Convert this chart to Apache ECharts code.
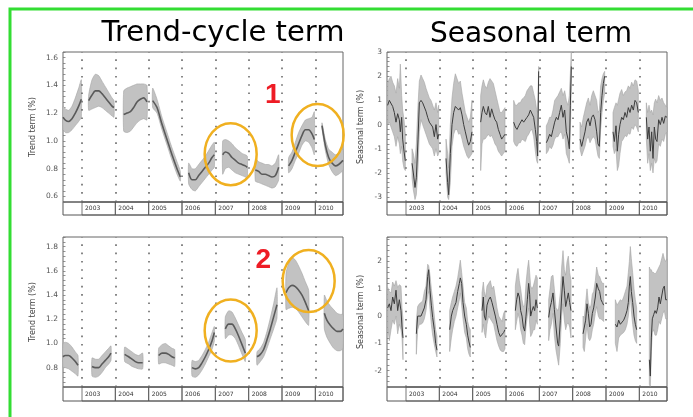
<!DOCTYPE html>
<html><head><meta charset="utf-8">
<script src="https://cdn.jsdelivr.net/npm/echarts@6/dist/echarts.min.js"></script>
<style>html,body{margin:0;padding:0;background:#fff}#c{width:693px;height:417px}</style>
</head><body><div id="c"></div>
<script>
// ---------- data ----------
const yearLines = [2003, 2004, 2005, 2006, 2007, 2008, 2009, 2010];
const yearLabels = ['2003', '2004', '2005', '2006', '2007', '2008', '2009', '2010'];

// Trend-cycle term, panel 1 (top-left)
const trendTopTime = [2002.43,2002.5,2002.6,2002.7,2002.8,2002.9,2002.98,null,
  2003.2,2003.3,2003.4,2003.5,2003.6,2003.7,2003.8,2003.9,2003.96,null,
  2004.25,2004.35,2004.45,2004.55,2004.65,2004.75,2004.85,2004.95,null,
  2005.12,2005.25,2005.4,2005.55,2005.7,2005.85,2005.95,null,
  2006.2,2006.3,2006.4,2006.5,2006.6,2006.7,2006.8,2006.9,2006.97,null,
  2007.22,2007.3,2007.4,2007.5,2007.6,2007.7,2007.8,2007.9,2007.96,null,
  2008.2,2008.3,2008.4,2008.5,2008.6,2008.7,2008.8,2008.9,null,
  2009.2,2009.3,2009.4,2009.5,2009.6,2009.7,2009.8,2009.9,2009.97,null,
  2010.2,2010.3,2010.4,2010.5,2010.6,2010.7,2010.83];
const trendTopMid = [1.17,1.15,1.14,1.16,1.20,1.25,1.30,null,
  1.29,1.33,1.36,1.36,1.34,1.31,1.28,1.25,1.24,null,
  1.19,1.20,1.21,1.24,1.28,1.30,1.31,1.28,null,
  1.29,1.24,1.12,1.01,0.90,0.80,0.74,null,
  0.77,0.72,0.72,0.75,0.78,0.81,0.84,0.88,0.90,null,
  0.90,0.92,0.91,0.88,0.86,0.84,0.83,0.82,0.81,null,
  0.79,0.78,0.76,0.76,0.75,0.74,0.75,0.81,null,
  0.82,0.86,0.92,0.98,1.04,1.08,1.08,1.05,1.01,null,
  1.11,0.97,0.88,0.84,0.82,0.83,0.86];
const trendTopHigh = [1.25,1.23,1.22,1.25,1.31,1.38,1.44,null,
  1.33,1.44,1.48,1.47,1.43,1.39,1.35,1.31,1.29,null,
  1.36,1.38,1.39,1.40,1.41,1.41,1.41,1.40,null,
  1.38,1.30,1.17,1.06,0.95,0.85,0.78,null,
  0.84,0.80,0.80,0.83,0.86,0.89,0.93,0.97,0.99,null,
  1.00,1.01,1.00,0.98,0.95,0.93,0.91,0.90,0.89,null,
  0.87,0.85,0.84,0.83,0.83,0.82,0.84,0.90,null,
  0.88,0.92,0.99,1.06,1.11,1.15,1.16,1.17,1.21,null,
  1.13,1.01,0.94,0.92,0.90,0.91,0.94];
const trendTopLow = [1.08,1.06,1.06,1.08,1.11,1.14,1.17,null,
  1.22,1.23,1.24,1.25,1.24,1.22,1.20,1.18,1.17,null,
  1.07,1.06,1.07,1.10,1.13,1.15,1.16,1.15,null,
  1.24,1.20,1.08,0.97,0.86,0.76,0.71,null,
  0.69,0.65,0.64,0.67,0.70,0.73,0.76,0.79,0.81,null,
  0.76,0.80,0.81,0.79,0.77,0.76,0.75,0.74,0.73,null,
  0.71,0.70,0.69,0.68,0.67,0.66,0.67,0.72,null,
  0.77,0.80,0.86,0.91,0.97,1.00,0.99,0.95,0.90,null,
  1.09,0.93,0.83,0.78,0.75,0.76,0.79];

// Trend-cycle term, panel 2 (bottom-left)
const trendBotTime = [2002.43,2002.5,2002.6,2002.7,2002.8,2002.88,null,
  2003.3,2003.4,2003.5,2003.6,2003.7,2003.8,2003.87,null,
  2004.28,2004.4,2004.5,2004.6,2004.7,2004.82,null,
  2005.3,2005.4,2005.5,2005.6,2005.7,2005.78,null,
  2006.3,2006.4,2006.5,2006.6,2006.7,2006.8,2006.9,2006.97,null,
  2007.3,2007.4,2007.5,2007.6,2007.7,2007.8,2007.9,null,
  2008.25,2008.35,2008.45,2008.55,2008.65,2008.75,2008.85,null,
  2009.12,2009.2,2009.3,2009.4,2009.5,2009.6,2009.7,2009.8,null,
  2010.27,2010.35,2010.45,2010.55,2010.65,2010.75,2010.83];
const trendBotMid = [0.89,0.90,0.90,0.88,0.85,0.82,null,
  0.81,0.80,0.80,0.83,0.86,0.89,0.92,null,
  0.91,0.89,0.87,0.85,0.84,0.84,null,
  0.90,0.92,0.92,0.91,0.89,0.88,null,
  0.80,0.79,0.80,0.84,0.89,0.95,1.02,1.09,null,
  1.12,1.16,1.16,1.12,1.06,0.99,0.92,null,
  0.89,0.91,0.95,1.03,1.12,1.22,1.32,null,
  1.42,1.46,1.48,1.47,1.44,1.40,1.34,1.27,null,
  1.25,1.19,1.15,1.12,1.10,1.10,1.12];
const trendBotHigh = [1.00,1.01,1.00,0.97,0.93,0.90,null,
  0.88,0.87,0.87,0.90,0.93,0.96,0.98,null,
  0.97,0.95,0.93,0.91,0.90,0.92,null,
  0.96,0.99,1.00,0.98,0.96,0.95,null,
  0.86,0.85,0.86,0.90,0.95,1.01,1.09,1.14,null,
  1.22,1.27,1.26,1.21,1.15,1.09,1.03,null,
  0.93,0.96,1.01,1.10,1.21,1.33,1.46,null,
  1.58,1.66,1.71,1.69,1.64,1.58,1.51,1.44,null,
  1.40,1.35,1.31,1.28,1.25,1.24,1.24];
const trendBotLow = [0.80,0.80,0.79,0.77,0.75,0.73,null,
  0.73,0.72,0.73,0.76,0.80,0.83,0.86,null,
  0.85,0.83,0.81,0.80,0.79,0.79,null,
  0.83,0.84,0.84,0.83,0.82,0.81,null,
  0.73,0.72,0.74,0.78,0.83,0.89,0.95,1.02,null,
  1.04,1.07,1.07,1.04,0.98,0.91,0.85,null,
  0.82,0.85,0.89,0.96,1.04,1.12,1.21,null,
  1.28,1.29,1.30,1.29,1.26,1.22,1.18,1.15,null,
  1.12,1.05,1.00,0.96,0.94,0.94,0.96];

// Seasonal term, panel 1 (top-right)
const seasTopTime = [2002.45,2002.5,2002.55,2002.6,2002.65,2002.7,2002.75,2002.8,2002.83,2002.87,2002.9,2002.94,2002.98,null,
  2003.18,2003.22,2003.27,2003.31,2003.36,2003.4,2003.45,2003.5,2003.55,2003.6,2003.65,2003.7,2003.75,2003.8,2003.85,2003.9,2003.95,2003.98,null,
  2004.2,2004.25,2004.28,2004.33,2004.38,2004.43,2004.48,2004.53,2004.58,2004.63,2004.68,2004.73,2004.78,2004.83,2004.88,2004.93,2004.98,null,
  2005.24,2005.28,2005.32,2005.37,2005.42,2005.47,2005.52,2005.57,2005.62,2005.67,2005.72,2005.77,2005.82,2005.87,2005.92,2005.97,null,
  2006.23,2006.28,2006.33,2006.38,2006.43,2006.48,2006.53,2006.58,2006.63,2006.68,2006.73,2006.78,2006.83,2006.88,2006.92,2006.95,2006.98,null,
  2007.21,2007.26,2007.31,2007.36,2007.41,2007.46,2007.51,2007.56,2007.61,2007.66,2007.71,2007.76,2007.81,2007.86,2007.9,2007.93,2007.96,null,
  2008.22,2008.27,2008.32,2008.37,2008.42,2008.47,2008.52,2008.57,2008.62,2008.67,2008.72,2008.76,2008.8,2008.84,2008.88,2008.92,2008.96,null,
  2009.21,2009.25,2009.3,2009.34,2009.38,2009.42,2009.47,2009.52,2009.57,2009.62,2009.67,2009.72,2009.77,2009.82,2009.87,2009.92,2009.97,null,
  2010.21,2010.25,2010.29,2010.33,2010.37,2010.41,2010.45,2010.49,2010.53,2010.58,2010.63,2010.68,2010.73,2010.78,2010.83];
const seasTopMid = [0.8,1.0,0.95,0.75,0.5,0.1,0.45,0.2,-0.3,0.3,-0.6,-1.1,-1.5,null,
  -1.6,-2.0,-2.6,-2.2,-0.6,0.9,1.0,0.9,0.85,0.55,0.3,0.1,0.05,-0.1,-0.5,0.0,-0.6,-0.4,null,
  -1.4,-2.4,-2.9,-1.2,0.0,0.5,0.75,0.8,0.6,0.7,0.4,0.0,-0.3,-0.6,-0.85,-0.7,-0.3,null,
  0.1,0.5,0.75,0.5,0.4,0.75,0.3,0.65,0.4,0.2,0.1,-0.2,-0.4,-0.6,-0.5,-0.4,null,
  0.1,-0.1,-0.2,-0.05,-0.1,0.2,0.1,0.1,0.3,0.4,0.6,0.65,0.3,-0.2,-0.7,-1.3,2.2,null,
  -0.75,-0.6,-0.4,-0.5,-0.2,0.1,0.3,0.2,0.5,0.8,0.3,0.6,-0.3,-0.6,-1.0,0.8,2.4,null,
  -0.6,-0.9,-0.6,-0.3,0.1,0.25,-0.05,0.3,0.4,0.2,-0.3,-0.8,-0.9,0.5,1.2,1.7,2.0,null,
  -0.3,-0.7,-0.05,-1.1,-0.4,0.0,0.3,0.2,0.5,0.3,0.7,0.5,0.8,0.6,1.0,0.9,0.5,null,
  0.3,-0.6,-0.1,-1.1,-0.3,-1.4,-0.1,-0.6,-0.7,0.2,0.0,0.3,0.05,0.35,0.3];
const seasTopHigh = [1.7,1.9,2.0,1.75,1.6,1.3,1.9,1.5,2.5,1.2,0.6,0.2,-0.4,null,
  -1.0,-1.2,-1.6,-0.8,0.8,1.8,2.05,1.9,1.75,1.5,1.3,1.1,1.0,0.8,0.6,0.9,0.5,0.8,null,
  -0.6,-1.2,-1.8,0.0,1.1,1.7,2.1,1.9,1.7,1.8,1.3,0.9,0.5,0.3,0.1,0.3,1.0,null,
  1.2,1.6,1.85,1.6,1.5,1.75,1.9,1.8,1.7,1.4,1.1,0.8,0.5,0.5,0.6,0.7,null,
  1.0,0.8,0.8,0.9,0.9,1.05,1.1,1.2,1.4,1.5,1.6,1.6,1.3,1.0,0.6,0.5,2.4,null,
  -0.05,0.1,0.3,0.3,0.6,1.0,1.1,1.2,1.35,1.5,1.2,1.4,1.0,0.8,1.2,2.1,3.0,null,
  0.1,-0.1,0.3,0.6,0.9,1.1,0.8,1.2,1.4,1.2,1.0,0.5,0.6,1.6,1.9,2.1,2.2,null,
  0.5,0.7,0.9,0.8,1.05,1.3,1.45,1.2,1.35,1.4,1.6,1.5,1.75,1.6,1.85,1.8,1.4,null,
  0.9,0.5,0.8,0.5,0.6,0.4,0.9,1.05,0.9,1.2,1.0,1.1,0.9,0.8,0.7];
const seasTopLow = [0.0,0.1,-0.1,-0.3,-0.5,-0.9,-0.5,-0.8,-1.2,-0.9,-1.5,-1.8,-1.9,null,
  -2.2,-2.7,-3.1,-2.9,-1.8,-0.3,0.2,0.0,-0.2,-0.4,-0.6,-0.8,-0.9,-1.0,-1.3,-1.0,-1.3,-1.2,null,
  -2.0,-3.0,-3.1,-2.4,-0.9,-0.4,-0.2,-0.2,-0.4,-0.35,-0.6,-0.9,-1.1,-1.3,-1.4,-1.3,-1.2,null,
  -1.9,-0.8,-0.6,-0.6,-0.5,-0.4,-0.5,-0.45,-0.6,-0.8,-0.9,-1.1,-1.2,-1.3,-1.2,-1.1,null,
  -0.7,-0.85,-0.9,-0.75,-0.75,-0.6,-0.65,-0.7,-0.5,-0.4,-0.25,-0.2,-0.5,-1.1,-1.5,-1.6,1.5,null,
  -1.2,-1.1,-0.9,-1.0,-0.85,-0.6,-0.5,-0.5,-0.35,-0.3,-0.6,-0.4,-1.2,-1.4,-1.6,-0.4,1.8,null,
  -1.0,-1.3,-1.1,-0.9,-0.6,-0.5,-0.75,-0.6,-0.5,-0.6,-1.0,-1.3,-1.4,-0.2,0.5,1.0,1.3,null,
  -0.9,-1.2,-1.0,-1.9,-1.7,-1.2,-0.7,-0.6,-0.45,-0.5,-0.35,-0.4,-0.1,-0.2,0.0,-0.1,-0.3,null,
  -0.6,-1.6,-1.2,-1.9,-1.6,-2.0,-1.4,-1.6,-1.5,-0.8,-0.9,-0.6,-0.7,-0.4,-0.3];

// Seasonal term, panel 2 (bottom-right)
const seasBotTime = [2002.45,2002.5,2002.55,2002.6,2002.65,2002.7,2002.75,2002.8,2002.85,2002.88,2002.91,null,
  2003.31,2003.35,2003.4,2003.45,2003.5,2003.55,2003.6,2003.65,2003.68,2003.72,2003.76,2003.8,2003.85,2003.89,2003.93,null,
  2004.31,2004.36,2004.4,2004.45,2004.5,2004.55,2004.6,2004.63,2004.67,2004.71,2004.76,2004.81,2004.85,2004.89,2004.93,null,
  2005.28,2005.32,2005.35,2005.39,2005.43,2005.48,2005.53,2005.58,2005.63,2005.68,2005.73,2005.78,2005.83,2005.88,2005.93,2005.97,null,
  2006.28,2006.32,2006.36,2006.4,2006.44,2006.48,2006.52,2006.56,2006.6,2006.64,2006.68,2006.71,2006.74,2006.78,2006.82,2006.86,2006.9,2006.94,null,
  2007.28,2007.32,2007.36,2007.41,2007.45,2007.5,2007.55,2007.58,2007.63,2007.67,2007.71,2007.75,2007.79,2007.83,2007.87,2007.91,2007.95,null,
  2008.31,2008.35,2008.39,2008.43,2008.47,2008.51,2008.55,2008.59,2008.63,2008.68,2008.72,2008.77,2008.81,2008.85,2008.89,2008.93,null,
  2009.28,2009.33,2009.38,2009.43,2009.48,2009.53,2009.58,2009.63,2009.67,2009.7,2009.73,2009.76,2009.8,2009.84,2009.88,2009.92,null,
  2010.3,2010.33,2010.36,2010.39,2010.43,2010.47,2010.51,2010.55,2010.59,2010.63,2010.67,2010.71,2010.75,2010.79,2010.83];
const seasBotMid = [0.3,0.45,0.2,0.7,0.45,0.95,0.2,0.6,0.2,-0.4,-0.8,null,
  -0.65,0.0,0.05,0.0,-0.05,0.3,0.6,1.45,1.7,0.95,0.4,-0.05,-0.5,-1.0,-1.25,null,
  -0.5,0.0,0.2,0.35,0.5,0.9,1.2,1.4,1.2,0.5,0.0,-0.3,-0.7,-0.95,-1.15,null,
  0.2,0.7,0.0,-0.15,0.4,0.6,0.7,0.5,0.45,0.0,-0.3,-0.6,-0.75,-0.7,-0.6,-0.5,null,
  0.2,0.6,0.85,0.7,0.2,0.0,-0.4,-0.55,0.0,0.6,1.2,0.8,0.0,0.2,0.35,0.2,0.6,0.3,null,
  -0.05,0.3,0.5,0.85,0.25,-0.4,-1.0,-1.1,-0.15,0.7,1.45,0.95,0.35,0.6,0.85,0.5,0.2,null,
  -0.65,-0.7,-0.15,0.45,0.1,-0.4,-0.3,0.1,0.3,0.7,1.2,1.0,0.9,0.6,0.5,0.4,null,
  -0.3,-0.4,-0.15,-0.3,-0.25,-0.15,0.0,0.2,0.5,1.1,1.45,0.9,0.5,0.0,-0.3,-0.5,null,
  -1.6,-2.2,-0.8,-0.1,0.05,0.2,0.1,0.3,0.7,0.45,0.5,1.0,1.1,0.6,0.6];
const seasBotHigh = [1.05,0.9,0.85,1.25,1.1,1.3,1.05,1.15,1.1,0.3,-0.1,null,
  -0.15,0.35,0.45,0.5,0.55,0.9,1.1,1.9,1.85,1.5,1.0,0.6,0.0,-0.5,-0.75,null,
  0.2,0.5,0.7,0.9,1.1,1.4,1.8,2.05,1.6,1.1,0.5,0.3,-0.2,-0.4,-0.5,null,
  0.85,1.25,0.9,0.7,1.1,1.2,1.3,1.0,1.1,0.7,0.3,0.0,-0.1,-0.2,0.1,0.2,null,
  1.1,1.5,1.75,1.3,1.0,0.6,0.35,0.4,1.2,1.7,2.05,1.6,1.1,1.0,1.1,1.3,1.5,1.4,null,
  0.6,1.0,1.45,1.5,1.0,0.3,0.2,0.3,0.85,1.8,2.4,1.7,1.5,2.0,2.2,1.6,1.3,null,
  0.0,-0.05,0.5,1.0,0.5,0.3,0.4,0.8,0.9,1.3,1.8,1.5,1.45,1.3,1.2,1.2,null,
  0.6,0.4,0.5,0.6,0.55,0.7,0.9,1.1,1.6,2.0,2.55,2.1,1.6,1.0,0.6,0.3,null,
  1.8,1.7,1.7,1.6,1.6,1.55,1.6,1.7,1.8,1.9,2.1,2.3,2.1,2.0,2.1];
const seasBotLow = [-0.4,-0.9,-0.5,-0.15,-0.3,0.0,-0.65,-0.3,-0.5,-0.8,-1.6,null,
  -1.4,-0.5,-0.3,-0.3,-0.25,-0.1,0.2,0.8,0.9,0.25,-0.3,-0.7,-1.05,-1.3,-1.5,null,
  -1.3,-0.8,-0.5,-0.2,0.0,0.3,0.6,0.85,0.4,-0.1,-0.6,-0.8,-1.2,-1.4,-1.5,null,
  -0.6,-0.3,-0.6,-0.8,-0.3,0.0,-0.1,-0.2,-0.3,-0.6,-0.9,-1.1,-1.25,-1.3,-1.3,-1.2,null,
  -0.5,-0.2,0.1,-0.1,-0.5,-0.7,-1.0,-1.05,-0.4,0.0,0.3,-0.3,-0.75,-0.65,-0.5,-0.5,-0.15,-0.3,null,
  -0.9,-0.5,-0.3,0.1,-0.7,-1.25,-1.6,-1.8,-1.0,0.0,0.45,-0.15,-0.5,-0.3,-0.25,-0.4,-0.8,null,
  -1.15,-1.3,-0.8,-0.3,-0.8,-0.9,-0.8,-0.5,-0.3,0.1,0.35,0.0,-0.1,-0.1,-0.15,-0.2,null,
  -1.0,-1.3,-0.8,-0.7,-0.65,-0.6,-0.5,-0.3,0.0,0.4,0.8,0.2,-0.3,-0.7,-0.9,-1.0,null,
  -2.5,-2.6,-1.3,-0.6,-0.5,-0.7,-0.7,-0.5,-0.2,-0.3,-0.1,0.1,0.2,-0.1,-0.1];

// annotations (data coordinates of the hand-drawn marks)
const circleMarks = [[0, 2007.46, 0.904], [0, 2010.07, 1.042], [2, 2007.46, 1.107], [2, 2009.80, 1.516]];
const numberMarks = [[0, 2008.72, 1.33, '1'], [2, 2008.44, 1.686, '2']];

// ---------- chart ----------
const X_MIN = 2002.43, X_MAX = 2010.83;
const panels = [
  {left: 63, top: 52, h: 150, stripH: 13, t: trendTopTime, m: trendTopMid, hi: trendTopHigh, lo: trendTopLow,
   y: {min: 0.56, max: 1.64, interval: 0.04}, major: 0.2, dec: 1, name: 'Trend term (%)', smooth: 0.3, nameGap: 26},
  {left: 387, top: 52, h: 150, stripH: 13, t: seasTopTime, m: seasTopMid, hi: seasTopHigh, lo: seasTopLow,
   y: {min: -3.2, max: 3.0, interval: 0.2}, major: 1, dec: 0, name: 'Seasonal term (%)', smooth: false, nameGap: 22},
  {left: 63, top: 237, h: 150, stripH: 14, t: trendBotTime, m: trendBotMid, hi: trendBotHigh, lo: trendBotLow,
   y: {min: 0.64, max: 1.88, interval: 0.04}, major: 0.2, dec: 1, name: 'Trend term (%)', smooth: 0.3, nameGap: 26},
  {left: 387, top: 237, h: 150, stripH: 14, t: seasBotTime, m: seasBotMid, hi: seasBotHigh, lo: seasBotLow,
   y: {min: -2.6, max: 2.9, interval: 0.2}, major: 1, dec: 0, name: 'Seasonal term (%)', smooth: false, nameGap: 22}
];

function splitSegments(t) {
  const segs = []; let cur = [];
  t.forEach((v, i) => { if (v == null) { if (cur.length) segs.push(cur); cur = []; } else cur.push(i); });
  if (cur.length) segs.push(cur);
  return segs;
}

const grids = [], xAxes = [], yAxes = [], series = [];
panels.forEach((p, pi) => {
  const gi = pi * 2;
  grids.push({left: p.left, top: p.top, width: 280, height: p.h, show: true, borderColor: '#666', borderWidth: 1, backgroundColor: '#fff'});
  grids.push({left: p.left, top: p.top + p.h, width: 280, height: p.stripH, show: true, borderColor: '#555', borderWidth: 1});
  xAxes.push({gridIndex: gi, type: 'value', min: X_MIN, max: X_MAX, show: false});
  xAxes.push({gridIndex: gi + 1, type: 'value', min: X_MIN, max: X_MAX, show: false});
  const major = p.major, dec = p.dec;
  yAxes.push({gridIndex: gi, type: 'value', min: p.y.min, max: p.y.max, interval: p.y.interval,
    name: p.name, nameLocation: 'middle', nameGap: p.nameGap,
    nameTextStyle: {fontSize: 8, color: '#444', fontFamily: 'DejaVu Sans'},
    axisLine: {show: false}, splitLine: {show: false},
    axisTick: {show: true, inside: true, length: 2.5, lineStyle: {color: '#777', width: 0.8}},
    axisLabel: {fontSize: 7.5, color: '#555', fontFamily: 'DejaVu Sans', margin: 5,
      formatter: v => (Math.abs(v / major - Math.round(v / major)) < 1e-6) ? v.toFixed(dec) : ''}});
  yAxes.push({gridIndex: gi + 1, type: 'value', min: 0, max: 1, show: false});

  const segs = splitSegments(p.t);
  const t = p.t, hi = p.hi, lo = p.lo;
  // uncertainty band
  series.push({type: 'custom', xAxisIndex: gi, yAxisIndex: gi, silent: true, z: 2,
    data: segs.map(s => [t[s[0]], p.m[s[0]]]),
    renderItem: (params, api) => {
      const s = segs[params.dataIndex];
      const pts = s.map(i => api.coord([t[i], hi[i]]))
        .concat(s.slice().reverse().map(i => api.coord([t[i], lo[i]])));
      const cs = params.coordSys;
      const clipped = echarts.graphic.clipPointsByRect(pts, {x: cs.x, y: cs.y, width: cs.width, height: cs.height});
      return {type: 'polygon', shape: {points: clipped, smooth: p.smooth ? 0.2 : 0},
        style: {fill: '#c2c2c2', stroke: '#a5a5a5', lineWidth: 0.6}};
    }});
  // central estimate + dotted year lines
  series.push({type: 'line', xAxisIndex: gi, yAxisIndex: gi, silent: true, z: 3,
    showSymbol: false, symbol: 'none', connectNulls: false, smooth: p.smooth, clip: true,
    lineStyle: {color: p.smooth ? '#5a5a5a' : '#3c3c3c', width: p.smooth ? 1.6 : 1},
    data: t.map((v, i) => v == null ? ['-', '-'] : [v, p.m[i]]),
    markLine: {silent: true, symbol: ['none', 'none'], label: {show: false}, animation: false,
      lineStyle: {type: [1.6, 6.7], color: '#6a6a6a', width: 1.6},
      data: yearLines.map(y => ({xAxis: y}))}});
  // year strip
  series.push({type: 'custom', xAxisIndex: gi + 1, yAxisIndex: gi + 1, silent: true, z: 3,
    data: yearLines.map(y => [y, 0.5]),
    renderItem: (params, api) => {
      const y = yearLines[params.dataIndex];
      const cs = params.coordSys;
      const a = api.coord([y, 1]), b = api.coord([y + 1, 0]);
      const x0 = Math.max(a[0], cs.x), x1 = Math.min(b[0], cs.x + cs.width);
      return {type: 'group', children: [
        {type: 'rect', shape: {x: x0, y: a[1], width: x1 - x0, height: b[1] - a[1]},
         style: {fill: 'none', stroke: '#555', lineWidth: 0.8}},
        {type: 'text', x: x0 + 3, y: (a[1] + b[1]) / 2,
         style: {text: yearLabels[params.dataIndex], fontSize: 6, fontFamily: 'DejaVu Sans', fill: '#333', verticalAlign: 'middle', align: 'left'}}
      ]};
    }});
});

const chart = echarts.init(document.getElementById('c'));
chart.setOption({
  animation: false, backgroundColor: '#fff',
  grid: grids, xAxis: xAxes, yAxis: yAxes, series: series
});

// hand-drawn style annotations, positioned through the axes' scales
const gfx = [
  {type: 'polyline', shape: {points: [[10, 417], [10, 9], [693, 9]]}, style: {stroke: '#33dd33', lineWidth: 3, fill: 'none'}, z: 10},
  {type: 'text', x: 223, y: 33, style: {text: 'Trend-cycle term', fontSize: 29, fontFamily: 'DejaVu Sans', fill: '#000', align: 'center', verticalAlign: 'middle'}},
  {type: 'text', x: 531, y: 35, style: {text: 'Seasonal term', fontSize: 28, fontFamily: 'DejaVu Sans', fill: '#000', align: 'center', verticalAlign: 'middle'}}
];
circleMarks.forEach(c => {
  const pt = chart.convertToPixel({gridIndex: c[0] * 2}, [c[1], c[2]]);
  gfx.push({type: 'ellipse', shape: {cx: pt[0], cy: pt[1], rx: 26, ry: 31}, style: {fill: 'none', stroke: '#f0b020', lineWidth: 2.5}, z: 20});
});
numberMarks.forEach(n => {
  const pt = chart.convertToPixel({gridIndex: n[0] * 2}, [n[1], n[2]]);
  gfx.push({type: 'text', x: pt[0], y: pt[1], z: 20, style: {text: n[3], fontSize: 28, fontWeight: 'bold', fontFamily: 'Liberation Sans', fill: '#ee1c25', align: 'center', verticalAlign: 'middle'}});
});
chart.setOption({graphic: gfx});
</script>
</body></html>
